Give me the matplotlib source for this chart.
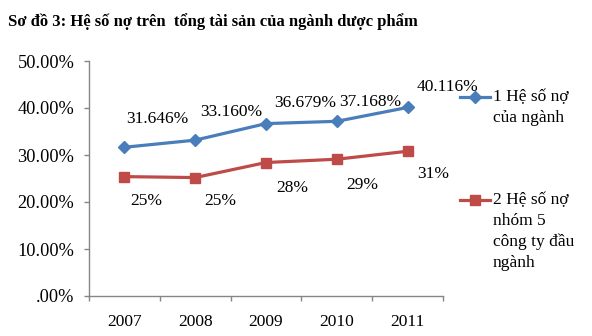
import numpy as np
import matplotlib.pyplot as plt
from matplotlib.lines import Line2D

plt.rcParams['font.family'] = ['Liberation Serif', 'DejaVu Serif']

years = ['2007', '2008', '2009', '2010', '2011']
nganh = [31.646, 33.160, 36.679, 37.168, 40.116]
nhom5 = [25.4, 25.2, 28.4, 29.1, 30.8]
nganh_labels = ['31.646%', '33.160%', '36.679%', '37.168%', '40.116%']
nhom5_labels = ['25%', '25%', '28%', '29%', '31%']
y_ticks = [0, 10, 20, 30, 40, 50]
y_ticklabels = ['.00%', '10.00%', '20.00%', '30.00%', '40.00%', '50.00%']

BLUE = '#4A7EBB'
RED = '#BE4B48'
GRAY = '#868686'

# label offsets in pixels, tuned by hand
blue_off = [(33, 28), (36, 28), (39, 21), (33, 19), (40, 20)]
red_off = [(22, -24), (25, -23), (26, -25), (25, -26), (26, -23)]

W, H = 592, 336
fig = plt.figure(figsize=(W / 100, H / 100), dpi=100)
ax = fig.add_axes([89 / W, 40 / H, 354 / W, 235 / H])

x = np.arange(len(years))
ax.plot(x, nganh, color=BLUE, lw=2.3, marker='D', ms=6.5, mec=BLUE, mfc=BLUE, zorder=3)
ax.plot(x, nhom5, color=RED, lw=2.3, marker='s', ms=7.5, mec=RED, mfc=RED, zorder=3)

for xi, v, lab, off in zip(x, nganh, nganh_labels, blue_off):
    ax.annotate(lab, (xi, v), xytext=off, textcoords='offset pixels',
                ha='center', va='center', fontsize=12.5, color='black')
for xi, v, lab, off in zip(x, nhom5, nhom5_labels, red_off):
    ax.annotate(lab, (xi, v), xytext=off, textcoords='offset pixels',
                ha='center', va='center', fontsize=12.5, color='black')

ax.set_xlim(-0.5, len(years) - 0.5)
ax.set_ylim(0, 50)
ax.set_yticks(y_ticks)
ax.set_yticklabels(y_ticklabels)
ax.set_xticks(x)
ax.set_xticklabels(years)
ax.set_xticks(np.arange(-0.5, len(years)), minor=True)
ax.tick_params(axis='x', which='major', length=0, pad=13, labelsize=12.5)
ax.tick_params(axis='x', which='minor', length=3.5, width=1, color=GRAY, direction='out')
ax.tick_params(axis='y', length=3.5, width=1, color=GRAY, pad=7, labelsize=13.2)

for s in ('top', 'right'):
    ax.spines[s].set_visible(False)
for s in ('left', 'bottom'):
    ax.spines[s].set_color(GRAY)
    ax.spines[s].set_linewidth(1)

fig.text(8 / W, 1 - 22 / H, 'Sơ đồ 3: Hệ số nợ trên  tổng tài sản của ngành dược phẩm',
         fontsize=12, fontweight='bold', ha='left', va='center')

# legend drawn by hand in figure pixels
def legend_entry(y, color, marker, ms, lines):
    yf = 1 - y / H
    fig.add_artist(Line2D([460 / W, 490 / W], [yf, yf], color=color, lw=2.3,
                          transform=fig.transFigure))
    fig.add_artist(Line2D([475 / W], [yf], color=color, marker=marker, ms=ms,
                          mec=color, mfc=color, transform=fig.transFigure))
    for i, t in enumerate(lines):
        fig.text(493 / W, 1 - (y + 21 * i) / H, t, fontsize=12.5,
                 ha='left', va='center')

legend_entry(97, BLUE, 'D', 6.5, ['1 Hệ số nợ', 'của ngành'])
legend_entry(200, RED, 's', 7.5, ['2 Hệ số nợ', 'nhóm 5', 'công ty đầu', 'ngành'])

fig.savefig('out.png', dpi=100)
